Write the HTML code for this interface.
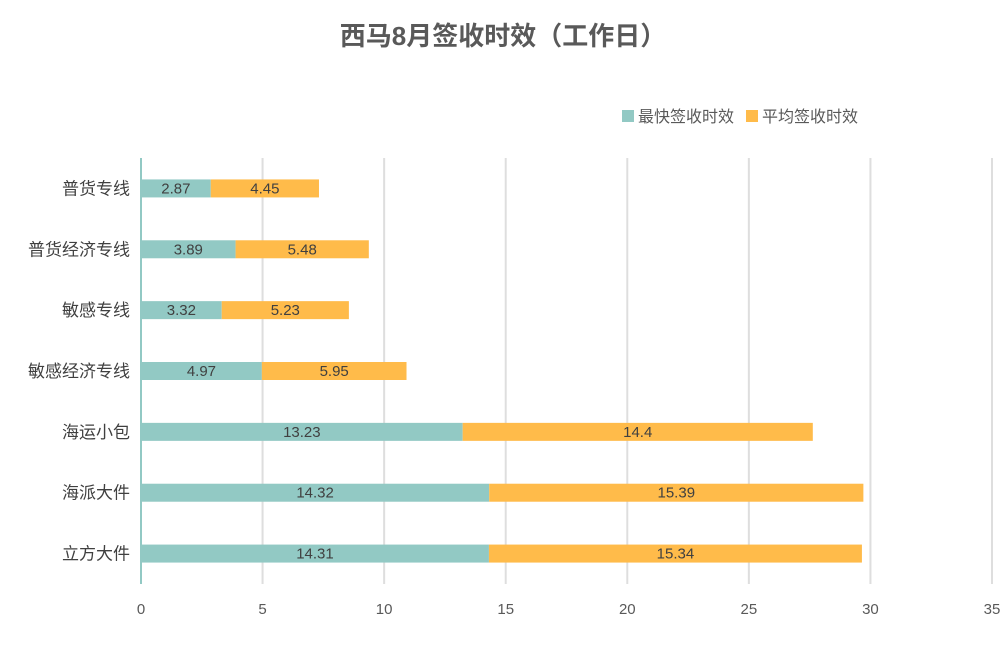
<!DOCTYPE html>
<html><head><meta charset="utf-8"><style>
body{margin:0;background:#fff;}
svg text{font-family:"Liberation Sans","Noto Sans CJK SC",sans-serif;}
</style></head><body>
<svg id="c" width="1006" height="656">
<text x="503" y="45" text-anchor="middle" font-size="26" font-weight="bold" fill="#595959">西马8月签收时效（工作日）</text>
<g>
<rect x="622" y="110" width="12" height="12" fill="#92c9c4"/>
<text x="638" y="122" font-size="16" fill="#595959">最快签收时效</text>
<rect x="746" y="110" width="12" height="12" fill="#ffbb4a"/>
<text x="762" y="122" font-size="16" fill="#595959">平均签收时效</text>
</g>
<g id="grid"></g><g id="bars"></g><g id="labels"></g>
</svg>
<script>
const categories=["普货专线","普货经济专线","敏感专线","敏感经济专线","海运小包","海派大件","立方大件"];
const fastest=[2.87,3.89,3.32,4.97,13.23,14.32,14.31];
const average=[4.45,5.48,5.23,5.95,14.4,15.39,15.34];
const ticks=[0,5,10,15,20,25,30,35];
const NS="http://www.w3.org/2000/svg";
const x0=141,x1=992,xmax=35,yTop=158,yBottom=584;
const X=v=>x0+(x1-x0)*v/xmax;
const band=(yBottom-yTop)/categories.length;
const Y=i=>yTop+band*(i+0.5);
function mk(t,a,p,txt){const e=document.createElementNS(NS,t);for(const k in a)e.setAttribute(k,a[k]);if(txt!==undefined)e.textContent=txt;p.appendChild(e);return e;}
const g=document.getElementById('grid'),b=document.getElementById('bars'),l=document.getElementById('labels');
ticks.forEach(t=>{
 if(t>0){const ln=mk('line',{x1:X(t),x2:X(t),y1:yTop,y2:yBottom,stroke:'#dedede','stroke-width':2},g);
 
 }
 const tx=mk('text',{x:X(t),y:614,'text-anchor':'middle','font-size':15,fill:'#595959'},g,String(t));
 
 
});
const ax=mk('line',{x1:x0,x2:x0,y1:yTop,y2:yBottom,stroke:'#92c9c4','stroke-width':2},g);


const h=18;
categories.forEach((c,i)=>{
 const y=Y(i);
 const ct=mk('text',{x:130,y:y+6,'text-anchor':'end','font-size':17,fill:'#404040'},l,c);
 
 
 const r1=mk('rect',{x:X(0),y:y-h/2,width:X(fastest[i])-X(0),height:h,fill:'#92c9c4'},b);
 
 
 const r2=mk('rect',{x:X(fastest[i]),y:y-h/2,width:X(fastest[i]+average[i])-X(fastest[i]),height:h,fill:'#ffbb4a'},b);
 
 
 const v1=mk('text',{x:(X(0)+X(fastest[i]))/2,y:y+5,'text-anchor':'middle','font-size':15,fill:'#404040'},l,String(fastest[i]));
 
 
 const v2=mk('text',{x:(X(fastest[i])+X(fastest[i]+average[i]))/2,y:y+5,'text-anchor':'middle','font-size':15,fill:'#404040'},l,String(average[i]));
 
 
});
</script>
</body></html>
